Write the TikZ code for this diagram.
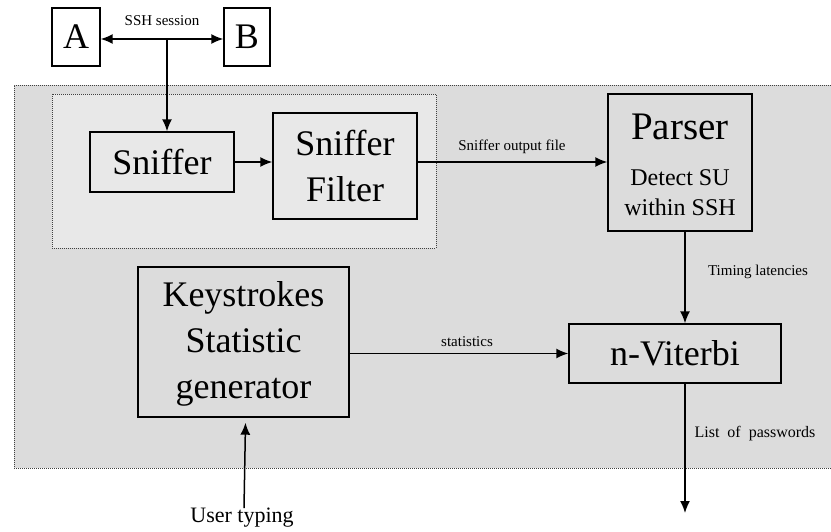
\documentclass[tikz,border=0pt]{standalone}
\usepackage{fontspec}
\setmainfont{Liberation Serif}
\usetikzlibrary{arrows.meta}
\definecolor{outerfill}{RGB}{220,220,220}
\definecolor{innerfill}{RGB}{232,232,232}
\newcommand{\fbig}{\fontsize{36}{46}\selectfont}
\newcommand{\fmid}{\fontsize{24}{30}\selectfont}
\newcommand{\fsmall}{\fontsize{15}{17}\selectfont}
\begin{document}
\begin{tikzpicture}[x=1pt,y=-1pt,
  blk/.style={draw,line width=1.4pt,inner sep=0pt,align=center},
  lbl/.style={inner sep=1pt,font=\fsmall},
  conn/.style={line width=1.5pt,-{Latex[length=12pt,width=10pt]}},
  dotbox/.style={draw=black!75,line width=0.9pt,dash pattern=on 1pt off 1pt}]
\useasboundingbox (0,0) rectangle (831,532);
% outer grey region
\fill[outerfill] (14,85) rectangle (831,468);
\draw[dotbox] (831,85) -- (14,85) -- (14,468) -- (831,468);
% inner dotted region
\draw[dotbox,fill=innerfill] (52,94) rectangle (436,248);
% nodes
\node[blk,fill=white,minimum width=48pt,minimum height=58pt,font=\fbig] (A) at (76,37) {A};
\node[blk,fill=white,minimum width=46pt,minimum height=58pt,font=\fbig] (B) at (247,37) {B};
\node[lbl] (ssh) at (162,21) {SSH session};
\node[blk,minimum width=144pt,minimum height=60pt,font=\fbig] (sn) at (162,162) {Sniffer};
\node[blk,minimum width=144pt,minimum height=106pt,font=\fbig] (sf) at (345,166) {Sniffer\\Filter};
\node[blk,minimum width=144pt,minimum height=137pt] (pa) at (680,162.5) {};
\node[inner sep=0pt,font=\fontsize{39}{45}\selectfont] (pat) at (680,127) {Parser};
\node[inner sep=0pt,font=\fmid,align=center] (pad) at (680,193) {Detect SU\\within SSH};
\node[blk,minimum width=211pt,minimum height=150pt] (ks) at (243.5,342) {};
\node[inner sep=0pt,font=\fbig,align=center] (kst) at (243.5,344) {Keystrokes\\Statistic\\generator};
\node[blk,minimum width=212pt,minimum height=59pt,font=\fbig] (nv) at (675,353.5) {n-Viterbi};
\node[inner sep=0pt,font=\fontsize{22}{24}\selectfont] (ut) at (242,518) {User typing};
% coordinates
\coordinate (ses) at (167,39);
\coordinate (pv) at (685,0);
\coordinate (out) at (685,513);
% connectors
\draw[line width=1.5pt,{Latex[length=12pt,width=10pt]}-{Latex[length=12pt,width=10pt]}] (A.east |- ses) -- (B.west |- ses);
\draw[conn] (ses) -- (ses |- sn.north);
\draw[conn] (sn.east) -- (sn.east -| sf.west);
\draw[conn] (sf.east |- sn.east) -- (pa.west |- sn.east);
\draw[conn] (pa.south -| pv) -- (nv.north -| pv);
\draw[conn] (nv.west -| ks.east) -- (nv.west);
\draw[conn] (nv.south -| out) -- (out);
\draw[conn] ([xshift=2pt]ut.north) -- ([xshift=2pt,yshift=-5pt]ks.south);
% labels
\node[lbl] (l1) at (512,147) {Sniffer output file};
\node[lbl] (l2) at (758,272) {Timing latencies};
\node[lbl] (l3) at (467,342) {statistics};
\node[lbl,font=\fontsize{16}{18}\selectfont] (l4) at (755,434) {List \ of \ passwords};
\end{tikzpicture}
\end{document}
